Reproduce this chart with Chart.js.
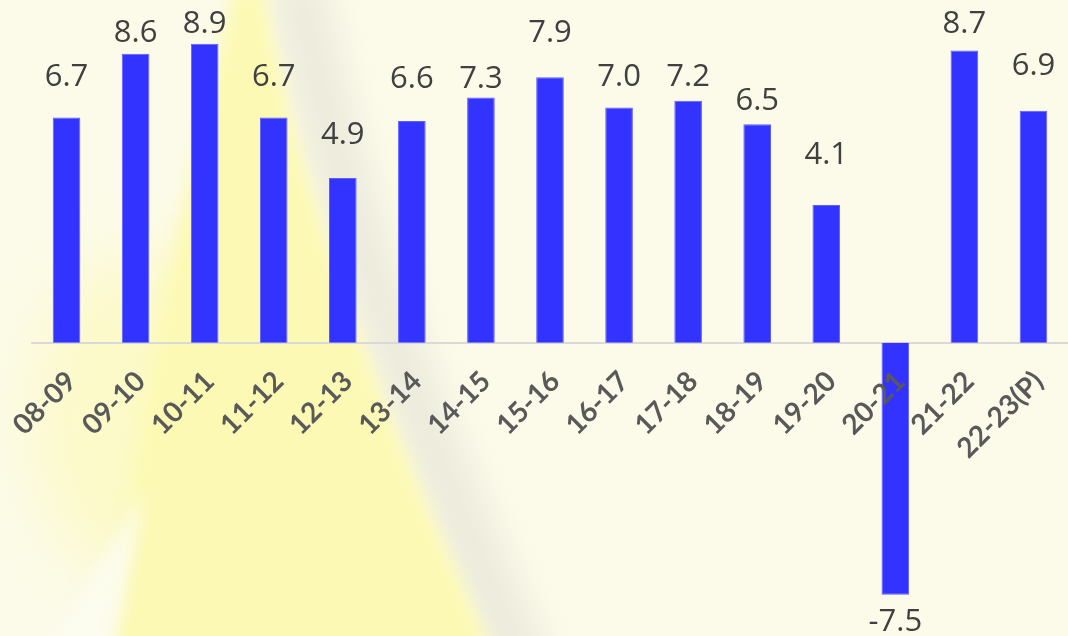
<!DOCTYPE html>
<html>
<head>
<meta charset="utf-8">
<title>GDP growth</title>
<script src="https://cdn.jsdelivr.net/npm/chart.js@4.4.0/dist/chart.umd.min.js"></script>
<style>
    html, body { margin: 0; padding: 0; background: #fcfbea; overflow: hidden; }
    #wrap { width: 1068px; height: 636px; }
</style>
</head>
<body>
<div id="wrap"><canvas id="growth-chart" width="1068" height="636"></canvas></div>
<script>
const years = ["08-09", "09-10", "10-11", "11-12", "12-13", "13-14", "14-15", "15-16",
               "16-17", "17-18", "18-19", "19-20", "20-21", "21-22", "22-23(P)"];
const growth = [6.7, 8.6, 8.9, 6.7, 4.9, 6.6, 7.3, 7.9, 7.0, 7.2, 6.5, 4.1, -7.5, 8.7, 6.9];

// distance (px) between the end of each bar and the middle of its value label
const labelGap = [43, 23, 22, 43, 45, 44, 20, 46, 33, 26, 25, 52, 25, 28, 47];

// cream slide background with the soft yellow flame on the left
const backdrop = {
    id: "backdrop",
    beforeDraw(chart) {
        const c = chart.ctx;
        c.save();
        c.fillStyle = "#fcfbea";
        c.fillRect(0, 0, chart.width, chart.height);

        // faint glow at the lower left
        c.filter = "blur(35px)";
        c.fillStyle = "rgba(252,249,185,0.7)";
        c.beginPath();
        c.ellipse(150, 420, 120, 170, 0, 0, Math.PI * 2);
        c.fill();

        // grey shadow along the right side of the flame
        c.filter = "blur(20px)";
        c.strokeStyle = "rgba(205,205,192,0.45)";
        c.lineWidth = 40;
        c.beginPath();
        c.moveTo(295, -30);
        c.bezierCurveTo(335, 200, 415, 420, 530, 680);
        c.stroke();

        // the flame itself
        c.filter = "blur(8px)";
        c.fillStyle = "#fcf9b4";
        c.beginPath();
        c.moveTo(236, -20);
        c.lineTo(262, -20);
        c.bezierCurveTo(300, 200, 385, 420, 497, 660);
        c.lineTo(105, 660);
        c.bezierCurveTo(130, 470, 165, 260, 236, -20);
        c.fill();

        // pale wedge cutting into the flame's base
        c.filter = "blur(8px)";
        c.fillStyle = "rgba(252,252,240,0.9)";
        c.beginPath();
        c.moveTo(145, 490);
        c.lineTo(112, 660);
        c.lineTo(40, 660);
        c.closePath();
        c.fill();
        c.restore();
    }
};

const valueLabels = {
    id: "valueLabels",
    afterDatasetsDraw(chart) {
        const c = chart.ctx;
        const meta = chart.getDatasetMeta(0);
        c.save();
        c.font = '31px "Open Sans"';
        c.fillStyle = "#404040";
        c.textAlign = "center";
        c.textBaseline = "alphabetic";
        meta.data.forEach((bar, i) => {
            const v = growth[i];
            const mid = v >= 0 ? bar.y - labelGap[i] : bar.y + labelGap[i];
            c.fillText(v.toFixed(1), bar.x, mid + 11);
        });
        c.restore();
    }
};

const ctx = document.getElementById("growth-chart").getContext("2d");
new Chart(ctx, {
    type: "bar",
    data: {
        labels: years,
        datasets: [{
            data: growth,
            backgroundColor: "#3333ff",
            borderColor: "#5d5dff",
            borderWidth: 1,
            barPercentage: 0.4,
            categoryPercentage: 1
        }]
    },
    options: {
        responsive: false,
        animation: false,
        devicePixelRatio: 1,
        layout: { padding: { left: 32, right: -3, top: 0, bottom: 0 } },
        plugins: {
            legend: { display: false },
            tooltip: { enabled: false }
        },
        scales: {
            x: {
                position: { y: 0 },
                // rotated labels may hang past the plot edges, don't let them squeeze it
                afterFit(scale) {
                    scale.paddingLeft = 0;
                    scale.paddingRight = 0;
                },
                grid: { display: false, drawTicks: false },
                border: { display: true, color: "#d9d9d9", width: 2 },
                ticks: {
                    z: 1,
                    color: "#595959",
                    font: { family: "Lato", weight: "bold", size: 28 },
                    minRotation: 45,
                    maxRotation: 45,
                    autoSkip: false,
                    labelOffset: 5,
                    padding: 22
                }
            },
            y: {
                display: false,
                min: -8.73,
                max: 10.2
            }
        }
    },
    plugins: [backdrop, valueLabels]
});
</script>
</body>
</html>
